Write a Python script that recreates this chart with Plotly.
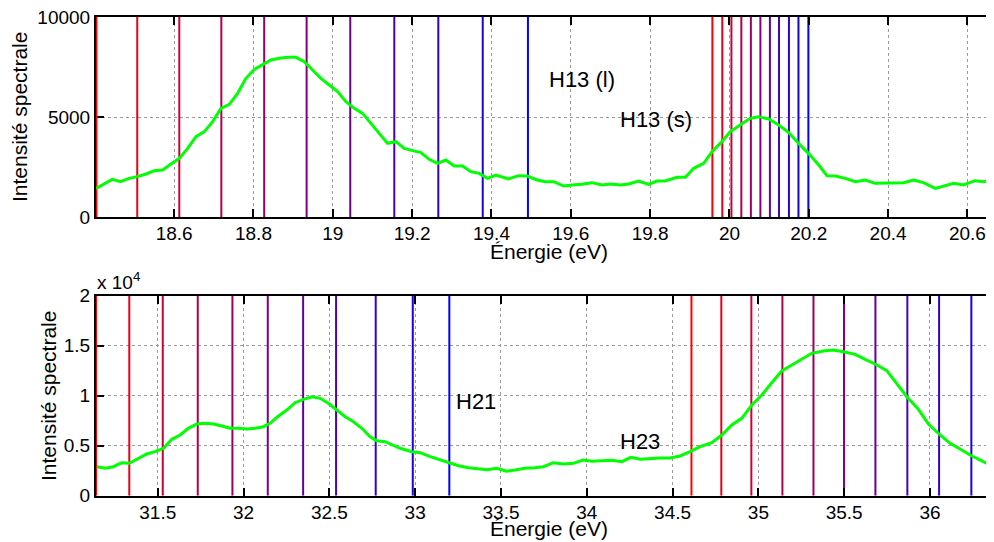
import plotly.graph_objects as go

# ---------------- data ----------------
# Top panel: H13 spectrum
e_top = [18.403, 18.423, 18.444, 18.465, 18.486, 18.507, 18.529, 18.550, 18.571, 18.592,
         18.613, 18.634, 18.655, 18.676, 18.697, 18.718, 18.739, 18.760, 18.781, 18.802,
         18.823, 18.844, 18.865, 18.886, 18.907, 18.928, 18.949, 18.970, 18.991, 19.012,
         19.033, 19.054, 19.075, 19.096, 19.117, 19.138, 19.159, 19.180, 19.201, 19.222,
         19.243, 19.264, 19.285, 19.306, 19.327, 19.348, 19.369, 19.390, 19.411, 19.443,
         19.468, 19.490, 19.515, 19.536, 19.557, 19.582, 19.603, 19.628, 19.653, 19.679,
         19.700, 19.725, 19.746, 19.771, 19.796, 19.817, 19.838, 19.868, 19.889, 19.910,
         19.935, 19.956, 19.981, 20.002, 20.027, 20.052, 20.073, 20.099, 20.124, 20.149,
         20.174, 20.199, 20.225, 20.246, 20.267, 20.292, 20.317, 20.342, 20.367, 20.393,
         20.414, 20.439, 20.464, 20.489, 20.519, 20.544, 20.565, 20.590, 20.619, 20.640,
         20.666]
i_top = [1433, 1650, 1883, 1767, 1933, 2017, 2150, 2317, 2350, 2650,
         2933, 3433, 4017, 4267, 4767, 5433, 5633, 6183, 6933, 7383,
         7600, 7850, 7933, 7983, 7983, 7767, 7350, 6933, 6600, 6267,
         5767, 5433, 5183, 4683, 4183, 3683, 3767, 3433, 3317, 3217,
         2883, 2683, 2850, 2550, 2550, 2267, 2183, 1933, 2100, 1900,
         2067, 2050, 1850, 1767, 1767, 1550, 1600, 1633, 1717, 1600,
         1650, 1600, 1650, 1800, 1633, 1800, 1800, 1983, 1983, 2433,
         2683, 3267, 3767, 4267, 4600, 4933, 5017, 4900, 4600, 4233,
         3683, 3183, 2600, 2067, 2050, 1933, 1767, 1850, 1683, 1683,
         1683, 1717, 1850, 1717, 1433, 1567, 1683, 1600, 1817, 1767,
         1850]

# Bottom panel: H21 / H23 spectrum
e_bot = [31.145, 31.193, 31.241, 31.290, 31.334, 31.387, 31.436, 31.484, 31.533, 31.582,
         31.630, 31.678, 31.727, 31.776, 31.824, 31.873, 31.921, 31.970, 32.019, 32.067,
         32.115, 32.154, 32.203, 32.252, 32.300, 32.349, 32.397, 32.446, 32.494, 32.543,
         32.592, 32.640, 32.689, 32.737, 32.776, 32.825, 32.873, 32.912, 32.980, 33.029,
         33.087, 33.145, 33.199, 33.252, 33.310, 33.368, 33.417, 33.476, 33.530, 33.582,
         33.640, 33.699, 33.747, 33.805, 33.864, 33.922, 33.977, 34.029, 34.087, 34.146,
         34.204, 34.256, 34.311, 34.369, 34.427, 34.485, 34.544, 34.602, 34.660, 34.728,
         34.787, 34.845, 34.903, 34.962, 35.020, 35.078, 35.136, 35.195, 35.253, 35.311,
         35.379, 35.437, 35.495, 35.564, 35.622, 35.680, 35.748, 35.807, 35.865, 35.932,
         35.991, 36.059, 36.117, 36.175, 36.244, 36.311, 36.370]
i_bot = [2900, 2740, 2900, 3300, 3240, 3740, 4170, 4400, 4740, 5640,
         6070, 6740, 7170, 7240, 7170, 6970, 6740, 6740, 6670, 6740,
         6900, 7240, 7970, 8570, 9300, 9640, 9900, 9740, 9240, 8570,
         7900, 7400, 6740, 5900, 5500, 5400, 5000, 4740, 4400, 4300,
         3900, 3570, 3300, 3000, 2800, 2670, 2600, 2740, 2440, 2570,
         2740, 2800, 2900, 3300, 3170, 3240, 3570, 3440, 3470, 3540,
         3400, 3840, 3640, 3740, 3770, 3770, 3970, 4400, 4900, 5300,
         6070, 7070, 7740, 9070, 10070, 11300, 12470, 13070, 13670, 14240,
         14470, 14570, 14400, 14140, 13640, 13170, 12500, 11240, 9900, 8640,
         7170, 6070, 5240, 4670, 3970, 3400, 2900]

# Vertical marker lines (energies), colours run red -> blue within each group
lines_h13_l = [18.404, 18.507, 18.613, 18.719, 18.827, 18.934, 19.044, 19.155, 19.266, 19.378, 19.492]
lines_h13_s = [19.957, 19.982, 20.005, 20.030, 20.054, 20.078, 20.102, 20.125, 20.150, 20.174, 20.199]
lines_h21 = [31.140, 31.334, 31.529, 31.733, 31.935, 32.141, 32.347, 32.539, 32.770, 32.986, 33.199]
lines_h23 = [34.610, 34.784, 34.959, 35.140, 35.321, 35.499, 35.682, 35.868, 36.053, 36.241]

top_xrange = [18.403, 20.667]
bot_xrange = [31.140, 36.373]
top_ymax = 10000
bot_ymax = 20000
top_xticks = [18.6, 18.8, 19.0, 19.2, 19.4, 19.6, 19.8, 20.0, 20.2, 20.4, 20.6]
top_xticktext = ["18.6", "18.8", "19", "19.2", "19.4", "19.6", "19.8", "20", "20.2", "20.4", "20.6"]
top_yticks = [0, 5000, 10000]
top_yticktext = ["0", "5000", "10000"]
bot_xticks = [31.5, 32, 32.5, 33, 33.5, 34, 34.5, 35, 35.5, 36]
bot_xticktext = ["31.5", "32", "32.5", "33", "33.5", "34", "34.5", "35", "35.5", "36"]
bot_yticks = [0, 5000, 10000, 15000, 20000]
bot_yticktext = ["0", "0.5", "1", "1.5", "2"]

labels_top = [("H13 (l)", 19.541, 6900), ("H13 (s)", 19.720, 4900)]
labels_bot = [("H21", 33.227, 9470), ("H23", 34.182, 5470)]

# ---------------- figure ----------------
# the page body has an 8px margin, so the figure is sized to the remaining window
OFF = 8
W, H = 994 - OFF, 542 - OFF
FONT = "Liberation Sans, Arial, Helvetica, sans-serif"


def px(xs):
    return (xs - OFF) / W


def py(ys):
    return 1 - (ys - OFF) / H


def grad_color(i, n=11):
    t = i / (n - 1)
    return f"rgb({round(255 * (1 - t))},0,{round(255 * t)})"


fig = go.Figure()

for grp, xa, ya, ymax in [(lines_h13_l, "x", "y", top_ymax), (lines_h13_s, "x", "y", top_ymax),
                          (lines_h21, "x2", "y2", bot_ymax), (lines_h23, "x2", "y2", bot_ymax)]:
    for i, e in enumerate(grp):
        fig.add_trace(go.Scatter(x=[e, e], y=[0, ymax], mode="lines", xaxis=xa, yaxis=ya,
                                 line=dict(color=grad_color(i), width=2),
                                 showlegend=False, hoverinfo="skip"))

fig.add_trace(go.Scatter(x=e_top, y=i_top, mode="lines", xaxis="x", yaxis="y",
                         line=dict(color="rgb(0,255,0)", width=3), showlegend=False))
fig.add_trace(go.Scatter(x=e_bot, y=i_bot, mode="lines", xaxis="x2", yaxis="y2",
                         line=dict(color="rgb(0,255,0)", width=3), showlegend=False))

xdom = [px(96), 1.0]
top_dom = [py(217), py(17)]
bot_dom = [py(495.7), py(295.7)]

common_x = dict(showline=True, linecolor="black", linewidth=2, mirror="ticks",
                ticks="inside", ticklen=8, tickwidth=2, tickcolor="black",
                showgrid=True, gridcolor="#9a9a9a", griddash="dot", gridwidth=1,
                zeroline=False, tickfont=dict(family=FONT, size=19, color="black"),
                ticklabeloverflow="allow", ticklabelstandoff=-2,
                automargin=False, fixedrange=True)
common_y = dict(showline=True, linecolor="black", linewidth=2, mirror=False,
                ticks="inside", ticklen=8, tickwidth=2, tickcolor="black",
                showgrid=True, gridcolor="#9a9a9a", griddash="dot", gridwidth=1,
                zeroline=False, tickfont=dict(family=FONT, size=19, color="black"),
                ticklabeloverflow="allow",
                automargin=False, layer="below traces", fixedrange=True)

fig.update_layout(
    width=W, height=H, margin=dict(l=0, r=0, t=0, b=0, autoexpand=False),
    paper_bgcolor="white", plot_bgcolor="white",
    xaxis=dict(common_x, domain=xdom, anchor="y", range=top_xrange,
               tickvals=top_xticks, ticktext=top_xticktext),
    yaxis=dict(common_y, domain=top_dom, anchor="x", range=[0, top_ymax],
               tickvals=top_yticks, ticktext=top_yticktext),
    xaxis2=dict(common_x, domain=xdom, anchor="y2", range=bot_xrange,
                tickvals=bot_xticks, ticktext=bot_xticktext),
    yaxis2=dict(common_y, domain=bot_dom, anchor="x2", range=[0, bot_ymax],
                tickvals=bot_yticks, ticktext=bot_yticktext),
)

ann = []
for txt, x, y in labels_top:
    ann.append(dict(text=txt, x=x, y=y, xref="x", yref="y", xanchor="left", yanchor="middle",
                    showarrow=False, font=dict(family=FONT, size=22, color="black")))
for txt, x, y in labels_bot:
    ann.append(dict(text=txt, x=x, y=y, xref="x2", yref="y2", xanchor="left", yanchor="middle",
                    showarrow=False, font=dict(family=FONT, size=22, color="black")))

# axis titles
ann.append(dict(text="Intensité spectrale", x=px(20), y=py(117), xref="paper", yref="paper",
                textangle=-90, showarrow=False, xanchor="center", yanchor="middle",
                font=dict(family=FONT, size=21, color="black")))
ann.append(dict(text="Intensité spectrale", x=px(48), y=py(396), xref="paper", yref="paper",
                textangle=-90, showarrow=False, xanchor="center", yanchor="middle",
                font=dict(family=FONT, size=21, color="black")))
ann.append(dict(text="Énergie (eV)", x=px(549), y=py(251), xref="paper", yref="paper",
                showarrow=False, xanchor="center", yanchor="middle",
                font=dict(family=FONT, size=21, color="black")))
ann.append(dict(text="Énergie (eV)", x=px(549), y=py(528), xref="paper", yref="paper",
                showarrow=False, xanchor="center", yanchor="middle",
                font=dict(family=FONT, size=21, color="black")))
ann.append(dict(text="x 10<sup>4</sup>", x=px(95), y=py(295), xref="paper", yref="paper",
                showarrow=False, xanchor="left", yanchor="bottom",
                font=dict(family=FONT, size=19, color="black")))

fig.update_layout(annotations=ann)

fig.write_html("out.html")
